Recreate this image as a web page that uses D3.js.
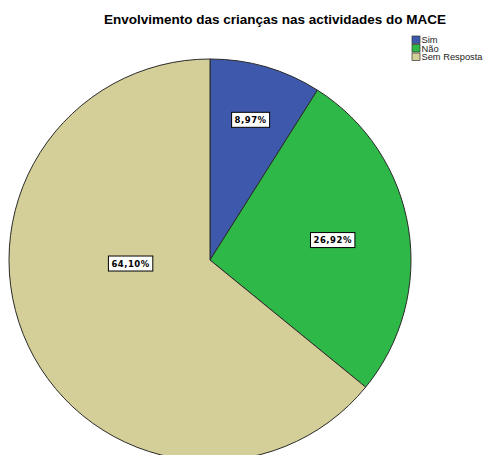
<!DOCTYPE html>
<html>
<head>
<meta charset="utf-8">
<script src="https://cdn.jsdelivr.net/npm/d3@7"></script>
<style>
  body { margin: 0; background: #fff; }
</style>
</head>
<body>
<div id="chart"></div>
<script>
// Categories and counts (n = 78)
const categories = ["Sim", "Não", "Sem Resposta"];
const counts = [7, 21, 50];
const colors = ["#3e58ac", "#2eb848", "#d4cf98"];

const width = 483, height = 455;
const cx = 210, cy = 260, radius = 201;

const svg = d3.select("#chart")
    .append("svg")
    .attr("width", width)
    .attr("height", height);

// Title
svg.append("text")
    .attr("x", 275)
    .attr("y", 24)
    .attr("text-anchor", "middle")
    .attr("font-family", "Liberation Sans, Arial, sans-serif")
    .attr("font-weight", "bold")
    .attr("font-size", 13.5)
    .attr("fill", "#000")
    .text("Envolvimento das crianças nas actividades do MACE");

const total = d3.sum(counts);
const data = categories.map((c, i) => ({ name: c, value: counts[i], color: colors[i] }));

const pie = d3.pie().sort(null).value(d => d.value);
const arcs = pie(data);

const arc = d3.arc().innerRadius(0).outerRadius(radius);

const g = svg.append("g")
    .attr("transform", "translate(" + cx + "," + cy + ")");

g.selectAll("path")
    .data(arcs)
    .enter()
    .append("path")
    .attr("d", arc)
    .attr("fill", d => d.data.color)
    .attr("stroke", "#2a2a2a")
    .attr("stroke-width", 1);

// Labels: smaller slices get labels further out
const fmt = v => (v * 100).toFixed(2).replace(".", ",") + "%";

const labels = g.selectAll("g.label")
    .data(arcs)
    .enter()
    .append("g")
    .attr("class", "label")
    .attr("transform", d => {
        const frac = d.data.value / total;
        const r = radius * (0.78 - 0.6 * frac);
        // big slices: pull the label angle toward the horizontal
        let a = (d.startAngle + d.endAngle) / 2;
        if (frac > 0.5) a = a + (1.5 * Math.PI - a) * 0.9;
        return "translate(" + (r * Math.sin(a)) + "," + (-r * Math.cos(a)) + ")";
    });

labels.each(function (d) {
    const lg = d3.select(this);
    const rect = lg.append("rect");
    const t = lg.append("text")
        .attr("text-anchor", "middle")
        .attr("dy", "0.35em")
        .attr("font-family", "DejaVu Sans, sans-serif")
        .attr("font-weight", "bold")
        .attr("font-size", 8.5)
        .attr("letter-spacing", 0.5)
        .attr("fill", "#000")
        .text(fmt(d.data.value / total));
    const bb = t.node().getBBox();
    rect.attr("x", bb.x - 3)
        .attr("y", -7.5)
        .attr("width", bb.width + 6)
        .attr("height", 15)
        .attr("fill", "#fff")
        .attr("stroke", "#000")
        .attr("stroke-width", 1);
});

// Legend
const legend = svg.append("g")
    .attr("transform", "translate(412,36)");

const items = legend.selectAll("g")
    .data(data)
    .enter()
    .append("g")
    .attr("transform", (d, i) => "translate(0," + (i * 8.5) + ")");

items.append("rect")
    .attr("width", 8)
    .attr("height", 7.5)
    .attr("fill", d => d.color)
    .attr("stroke", "#333")
    .attr("stroke-width", 0.7);

items.append("text")
    .attr("x", 9.5)
    .attr("y", 7)
    .attr("font-family", "Liberation Sans, Arial, sans-serif")
    .attr("font-size", 9.3)
    .attr("fill", "#222")
    .text(d => d.name);
</script>
</body>
</html>
